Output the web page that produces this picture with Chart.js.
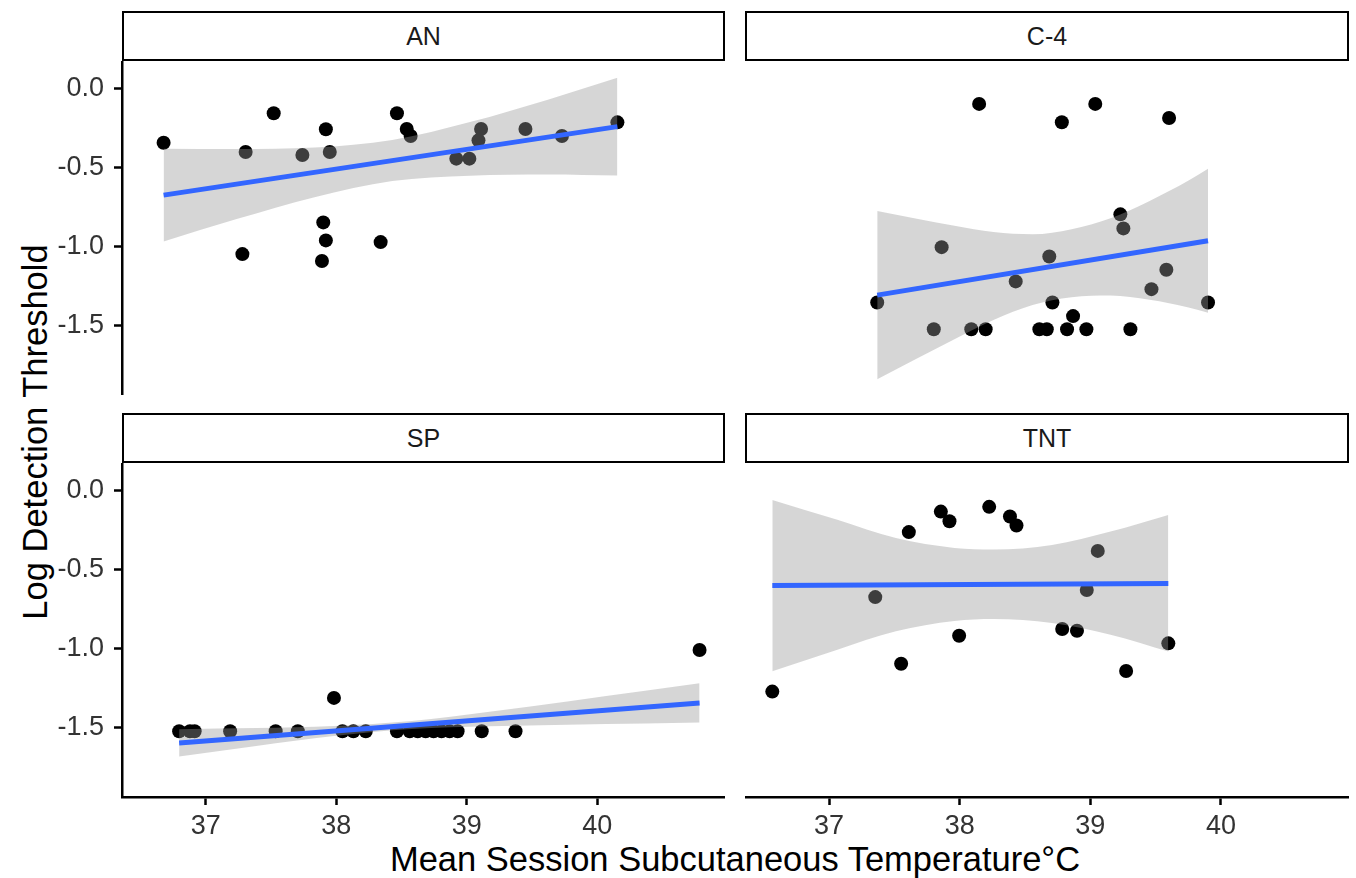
<!DOCTYPE html>
<html>
<head>
<meta charset="utf-8">
<title>Log Detection Threshold vs Mean Session Subcutaneous Temperature</title>
<script src="https://cdn.jsdelivr.net/npm/chart.js@4.4.1/dist/chart.umd.min.js"></script>
<style>
  html, body { margin: 0; padding: 0; background: #fff; }
  #fig { position: relative; width: 1356px; height: 878px; overflow: hidden;
         font-family: "Liberation Sans", Arial, Helvetica, sans-serif; }
  #fig canvas { position: absolute; }
  .strip { position: absolute; box-sizing: border-box; border: 2px solid #000; background: #fff;
           display: flex; align-items: center; justify-content: center;
           font-size: 25px; color: #1a1a1a; }
  .xtitle { position: absolute; left: 235px; width: 1000px; top: 842px; text-align: center;
            font-size: 34.5px; line-height: 34.5px; color: #000; white-space: nowrap; }
  .ytitle { position: absolute; left: -315px; top: 411.5px; width: 700px; height: 40px;
            line-height: 40px; text-align: center; font-size: 34.5px; color: #000;
            transform: rotate(-90deg); white-space: nowrap; }
</style>
</head>
<body>
<div id="fig">
  <div class="ytitle">Log Detection Threshold</div>
  <div class="xtitle">Mean Session Subcutaneous Temperature°C</div>
</div>
<script>
// ---- axis ticks ----
const xTicks = [37, 38, 39, 40];
const yTicks = [0, -0.5, -1, -1.5];
const panelNames = ['AN', 'C-4', 'SP', 'TNT'];

// ---- AN ----
const anX = [36.676, 37.52, 37.305, 37.74, 37.95, 37.92, 38.465, 38.54, 38.57, 37.90, 37.92,
             37.89, 37.28, 38.34, 38.92, 39.02, 39.09, 39.11, 39.45, 39.73, 40.155];
const anY = [-0.341, -0.154, -0.400, -0.419, -0.400, -0.256, -0.154, -0.254, -0.298, -0.846, -0.960,
             -1.091, -1.047, -0.971, -0.442, -0.442, -0.326, -0.254, -0.254, -0.298, -0.212];
const anBandX = [36.676, 37.236, 37.833, 38.429, 39.025, 39.622, 40.155];
const anUpper = [-0.379, -0.381, -0.372, -0.324, -0.210, -0.068, 0.071];
const anLower = [-0.967, -0.825, -0.686, -0.584, -0.550, -0.542, -0.549];
const anFitX = [36.676, 40.155];
const anFitY = [-0.673, -0.239];

// ---- C-4 ----
const c4X = [38.149, 39.038, 38.782, 39.603, 37.862, 38.686, 39.230, 39.253, 38.429, 39.582, 39.468,
             37.369, 39.901, 38.710, 38.868, 37.802, 38.089, 38.199, 38.610, 38.667, 38.822, 38.970, 39.307];
const c4Y = [-0.095, -0.095, -0.211, -0.184, -1.003, -1.062, -0.795, -0.884, -1.220, -1.146, -1.269,
             -1.354, -1.354, -1.354, -1.440, -1.523, -1.523, -1.523, -1.523, -1.523, -1.523, -1.523, -1.523];
const c4BandX = [37.369, 37.662, 37.960, 38.259, 38.558, 38.857, 39.155, 39.454, 39.752, 39.901];
const c4Upper = [-0.774, -0.821, -0.867, -0.907, -0.921, -0.889, -0.819, -0.710, -0.581, -0.506];
const c4Lower = [-1.840, -1.714, -1.586, -1.465, -1.370, -1.320, -1.309, -1.336, -1.385, -1.419];
const c4FitX = [37.369, 39.901];
const c4FitY = [-1.307, -0.962];

// ---- SP ----
const spX = [40.785, 37.982, 36.795, 36.878, 36.914, 37.186, 37.535, 37.705, 38.047, 38.131, 38.226,
             38.465, 38.563, 38.624, 38.685, 38.746, 38.807, 38.869, 38.930, 39.115, 39.374];
const spY = [-1.008, -1.312, -1.523, -1.523, -1.523, -1.523, -1.523, -1.523, -1.523, -1.523, -1.523,
             -1.523, -1.523, -1.523, -1.523, -1.523, -1.523, -1.523, -1.523, -1.523, -1.523];
const spBandX = [36.795, 37.386, 37.982, 38.578, 39.174, 39.771, 40.367, 40.785];
const spUpper = [-1.510, -1.503, -1.490, -1.458, -1.400, -1.334, -1.267, -1.219];
const spLower = [-1.683, -1.616, -1.553, -1.509, -1.492, -1.482, -1.474, -1.468];
const spFitX = [36.795, 40.785];
const spFitY = [-1.597, -1.344];

// ---- TNT ----
const tntX = [36.566, 37.552, 37.354, 37.611, 37.856, 37.922, 38.226, 38.385, 38.435, 37.996, 38.785,
              38.898, 39.057, 38.973, 39.274, 39.597];
const tntY = [-1.272, -1.095, -0.673, -0.261, -0.131, -0.192, -0.101, -0.162, -0.219, -0.918, -0.875,
              -0.886, -0.380, -0.628, -1.141, -0.966];
const tntBandX = [36.566, 37.064, 37.512, 37.960, 38.259, 38.707, 39.155, 39.597];
const tntUpper = [-0.057, -0.183, -0.299, -0.361, -0.371, -0.342, -0.257, -0.152];
const tntLower = [-1.143, -1.006, -0.890, -0.825, -0.812, -0.837, -0.911, -1.017];
const tntFitX = [36.566, 39.597];
const tntFitY = [-0.599, -0.586];

// ---- shared scale limits ----
const xMin = 36.357, xMax = 40.98;
const yMin = -1.94, yMax = 0.177;

// ---- facet grid geometry ----
const colLeft = [122, 745];
const colWidth = [603, 604];
const rowTop = [61, 463];
const panelHeight = 334;
const stripHeight = 50;
const yAxisWidth = 122;
const xAxisHeight = 60;

const FONT = '"Liberation Sans", Arial, Helvetica, sans-serif';
const RIBBON = 'rgba(153,153,153,0.4)';
const FIT = '#3366FF';

const zip = (xs, ys) => xs.map((x, i) => ({ x: x, y: ys[i] }));

const panels = [
  { name: panelNames[0], row: 0, col: 0, x: anX, y: anY, bx: anBandX, up: anUpper, lo: anLower, fx: anFitX, fy: anFitY },
  { name: panelNames[1], row: 0, col: 1, x: c4X, y: c4Y, bx: c4BandX, up: c4Upper, lo: c4Lower, fx: c4FitX, fy: c4FitY },
  { name: panelNames[2], row: 1, col: 0, x: spX, y: spY, bx: spBandX, up: spUpper, lo: spLower, fx: spFitX, fy: spFitY },
  { name: panelNames[3], row: 1, col: 1, x: tntX, y: tntY, bx: tntBandX, up: tntUpper, lo: tntLower, fx: tntFitX, fy: tntFitY }
];

const fig = document.getElementById('fig');

panels.forEach(p => {
  const showY = p.col === 0;
  const showX = p.row === 1;
  const leftSpace = showY ? yAxisWidth : 0;
  const w = leftSpace + colWidth[p.col];
  const h = panelHeight + (showX ? xAxisHeight : 0);

  // strip label above the panel
  const strip = document.createElement('div');
  strip.className = 'strip';
  strip.style.left = colLeft[p.col] + 'px';
  strip.style.top = (rowTop[p.row] - stripHeight) + 'px';
  strip.style.width = colWidth[p.col] + 'px';
  strip.style.height = stripHeight + 'px';
  strip.textContent = p.name;
  fig.appendChild(strip);

  const canvas = document.createElement('canvas');
  canvas.width = w;
  canvas.height = h;
  canvas.style.width = w + 'px';
  canvas.style.height = h + 'px';
  canvas.style.left = (colLeft[p.col] - leftSpace) + 'px';
  canvas.style.top = rowTop[p.row] + 'px';
  fig.appendChild(canvas);

  new Chart(canvas, {
    type: 'line',
    data: {
      datasets: [
        { // observations
          data: zip(p.x, p.y), showLine: false, pointRadius: 7, pointHoverRadius: 7,
          pointBackgroundColor: '#000', pointBorderWidth: 0, order: 3
        },
        { // confidence band, upper edge (filled down to the lower edge)
          data: zip(p.bx, p.up), borderWidth: 0, borderColor: 'rgba(0,0,0,0)', pointRadius: 0,
          fill: '+1', backgroundColor: RIBBON, cubicInterpolationMode: 'monotone', order: 2
        },
        { // confidence band, lower edge
          data: zip(p.bx, p.lo), borderWidth: 0, borderColor: 'rgba(0,0,0,0)', pointRadius: 0,
          fill: false, cubicInterpolationMode: 'monotone', order: 2
        },
        { // linear fit
          data: zip(p.fx, p.fy), borderColor: FIT, borderWidth: 5, pointRadius: 0,
          fill: false, borderCapStyle: 'butt', order: 1
        }
      ]
    },
    options: {
      responsive: false,
      maintainAspectRatio: false,
      devicePixelRatio: 1,
      animation: false,
      events: [],
      layout: { padding: 0, autoPadding: false },
      plugins: { legend: { display: false }, tooltip: { enabled: false } },
      scales: {
        x: {
          type: 'linear', min: xMin, max: xMax, display: showX,
          afterBuildTicks: s => { s.ticks = xTicks.map(v => ({ value: v })); },
          afterFit: s => {
            if (!showX) return;
            s.height = xAxisHeight; s.paddingLeft = 0; s.paddingRight = 0;
          },
          border: { display: true, color: '#000', width: 2.5 },
          grid: { display: true, drawOnChartArea: false, drawTicks: true, tickLength: 8,
                  tickColor: '#000', tickWidth: 2.5, color: '#000' },
          ticks: { color: '#333', padding: 5, font: { family: FONT, size: 27 },
                   maxRotation: 0, autoSkip: false, callback: v => String(v) }
        },
        y: {
          type: 'linear', min: yMin, max: yMax, display: showY,
          afterBuildTicks: s => { s.ticks = yTicks.map(v => ({ value: v })); },
          afterFit: s => {
            if (!showY) return;
            s.width = yAxisWidth; s.paddingTop = 0; s.paddingBottom = 0;
          },
          border: { display: true, color: '#000', width: 2.5 },
          grid: { display: true, drawOnChartArea: false, drawTicks: true, tickLength: 8,
                  tickColor: '#000', tickWidth: 2.5, color: '#000' },
          ticks: { color: '#333', padding: 10, font: { family: FONT, size: 27 }, autoSkip: false,
                   callback: v => (Math.abs(v) < 1e-9 ? 0 : v).toFixed(1) }
        }
      }
    }
  });
});
</script>
</body>
</html>
